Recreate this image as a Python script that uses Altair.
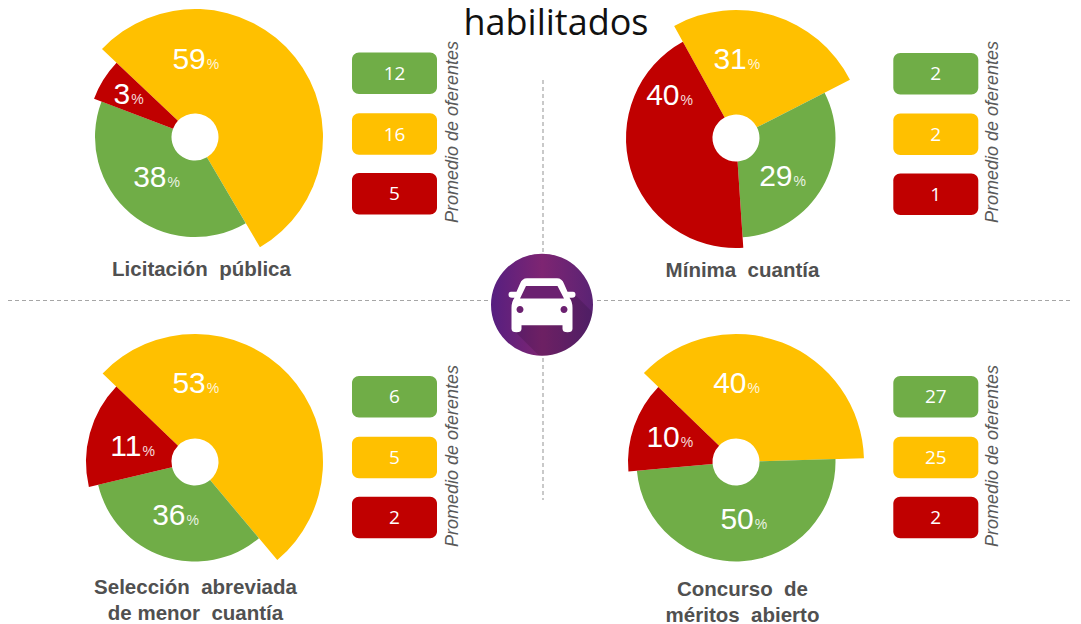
import altair as alt
import pandas as pd

# ---- values ----
categories = ["verde", "amarillo", "rojo"]
colors = ["#70AD47", "#FFC000", "#C00000"]

# slice boundaries (degrees clockwise from 12 o'clock) as drawn
yellow_start = [-46.6, -28.9, -46.2, -46.0]
yellow_end = [149.5, 62.9, 140.0, 88.3]
green_end = [290.8, 176.2, 256.8, 264.9]
# extent of each slice
yellow_size = [128, 128, 128, 128]
green_size = [100, 99.5, 99.5, 99.5]
red_size = [108, 110, 109, 108]

# percentage labels
yellow_pct = ["59", "31", "53", "40"]
green_pct = ["38", "29", "36", "50"]
red_pct = ["3", "40", "11", "10"]

# average bidders
green_avg = ["12", "2", "6", "27"]
yellow_avg = ["16", "2", "5", "25"]
red_avg = ["5", "1", "2", "2"]

axis_text = "Promedio de oferentes"
title_text = "habilitados"
captions = [
    ["Licitación\u00a0\u00a0pública"],
    ["Mínima\u00a0\u00a0cuantía"],
    ["Selección\u00a0\u00a0abreviada", "de\u00a0menor\u00a0\u00a0cuantía"],
    ["Concurso\u00a0\u00a0de", "méritos\u00a0\u00a0abierto"],
]

# ---- layout (separate from the values) ----
W, H = 1065, 616
centers = [(195, 137), (736, 138), (195, 462), (736, 462)]
hole = 23.5
box_left = [352, 893.3, 352, 893.3]
box_w = 85
box_tops = [[52.5, 113.3, 173], [53, 113.5, 173.5], [376, 436.7, 496.7], [376, 436.7, 496.7]]
box_h = 41.5
side_x = [453, 993, 453, 993]
side_y = [132, 132, 456, 456]
caption_pos = [
    [(201.5, 276)],
    [(742.5, 276.5)],
    [(195.5, 594), (195.5, 620)],
    [(742.5, 596), (742.5, 621.5)],
]
# (junction between number and %, baseline) for yellow, green, red
label_pos = [
    [(206.3, 69), (167, 187.3), (130.7, 104)],
    [(747.3, 69), (793, 186), (680, 105)],
    [(206.3, 392.7), (186, 525), (142, 455.7)],
    [(747, 392.7), (754.3, 529.3), (680.3, 446.7)],
]
icon_center = (542, 304.7)
icon_r = 51

# ---- tables ----
slices, pct_rows, boxes, box_text, side, caps = [], [], [], [], [], []
for i in range(4):
    cx, cy = centers[i]
    slices += [
        dict(cx=cx, cy=cy, cat="amarillo", a=yellow_start[i], b=yellow_end[i], r=yellow_size[i]),
        dict(cx=cx, cy=cy, cat="verde", a=yellow_end[i], b=green_end[i], r=green_size[i]),
        dict(cx=cx, cy=cy, cat="rojo", a=green_end[i], b=yellow_start[i] + 360, r=red_size[i]),
    ]
    for val, (jx, by) in zip([yellow_pct[i], green_pct[i], red_pct[i]], label_pos[i]):
        pct_rows.append(dict(x=jx, y=by, t=val, p="%"))
    for cat, top, val in zip(categories, box_tops[i], [green_avg[i], yellow_avg[i], red_avg[i]]):
        boxes.append(dict(x=box_left[i], x2=box_left[i] + box_w, y=top, y2=top + box_h, cat=cat))
        box_text.append(dict(x=box_left[i] + box_w / 2, y=top + box_h / 2 + 0.5, t=val))
    side.append(dict(x=side_x[i], y=side_y[i], t=axis_text))
    for line, (px, py) in zip(captions[i], caption_pos[i]):
        caps.append(dict(x=px, y=py, t=line))

slices = pd.DataFrame(slices)
pct_rows = pd.DataFrame(pct_rows)
boxes = pd.DataFrame(boxes)
box_text = pd.DataFrame(box_text)
side = pd.DataFrame(side)
caps = pd.DataFrame(caps)
icon = pd.DataFrame(dict(cx=[icon_center[0]], cy=[icon_center[1]], a=[0], b=[360], r=[icon_r]))
title_df = pd.DataFrame(dict(x=[556], y=[35], t=[title_text]))
h_rules = pd.DataFrame(dict(x=[8, 597], x2=[490, 1078], y=[300.5, 300.5]))
v_rules = pd.DataFrame(dict(x=[543, 543], y=[80, 358], y2=[253, 500]))

# ---- shared scales: one unit = one pixel of the page ----
xs = alt.Scale(domain=[8, 8 + W], range=[0, W], zero=False, nice=False)
ys = alt.Scale(domain=[8, 8 + H], range=[0, H], zero=False, nice=False)
X = lambda f: alt.X(f, scale=xs, axis=None, title=None)
Y = lambda f: alt.Y(f, scale=ys, axis=None, title=None)
theta_s = alt.Scale(domain=[0, 360], range=[0, 6.283185307])
rad_s = alt.Scale(domain=[0, 140], range=[0, 140], zero=False, nice=False)
col = alt.Color("cat:N", scale=alt.Scale(domain=categories, range=colors), legend=None)


def arcs(df, mark):
    return alt.Chart(df).mark_arc(**mark).encode(
        x=X("cx:Q"), y=Y("cy:Q"),
        theta=alt.Theta("a:Q", scale=theta_s, stack=None),
        theta2=alt.Theta2("b:Q"),
        radius=alt.Radius("r:Q", scale=rad_s, stack=None),
    )


rule_style = dict(color="#A6A6A6", strokeWidth=1.2, strokeDash=[4, 3])
rules_h = alt.Chart(h_rules).mark_rule(**rule_style).encode(x=X("x:Q"), x2="x2:Q", y=Y("y:Q"))
rules_v = alt.Chart(v_rules).mark_rule(**rule_style).encode(x=X("x:Q"), y=Y("y:Q"), y2="y2:Q")

pie = arcs(slices, dict(innerRadius=hole)).encode(color=col)

rects = alt.Chart(boxes).mark_rect(cornerRadius=7).encode(
    x=X("x:Q"), x2="x2:Q", y=Y("y:Q"), y2="y2:Q", color=col)


def text(df, field, **kw):
    return alt.Chart(df).mark_text(**kw).encode(x=X("x:Q"), y=Y("y:Q"), text=alt.Text(field))


nums = text(pct_rows, "t:N", font="Liberation Sans", fontSize=30, color="white", align="right", baseline="alphabetic", dx=-0.5)
pcts = text(pct_rows, "p:N", font="Liberation Sans", fontSize=14, color="white", opacity=0.85, align="left", baseline="alphabetic", dx=0.5)
box_nums = text(box_text, "t:N", font="Open Sans", fontSize=19, color="white", align="center", baseline="middle")
side_txt = text(side, "t:N", font="Liberation Sans", fontStyle="italic", fontSize=18, color="#595959", angle=270, align="center", baseline="middle")
cap_txt = text(caps, "t:N", font="Liberation Sans", fontWeight="bold", fontSize=20.5, color="#505050", align="center", baseline="alphabetic")
title_txt = text(title_df, "t:N", font="Open Sans", fontSize=36, color="#111111", align="center", baseline="alphabetic")

badge = arcs(icon, dict(fill={
    "gradient": "linear", "x1": 0, "x2": 1, "y1": 0, "y2": 0,
    "stops": [
        {"offset": 0, "color": "#561F80"},
        {"offset": 0.5, "color": "#7E2572"},
        {"offset": 1, "color": "#5A2374"},
    ]}))

SHADOW = "M33,-10 L50.5,7.5 A51,51 0 0 1 -3.1,50.9 L-30,24 Z"
CAR = ("M-15,-26.5 L15,-26.5 Q20,-26.5 22,-21 L25.5,-13 L31,-13 Q33.5,-13 33.5,-10 Q33.5,-7 30,-7 "
       "L27.5,-7 Q30.5,-3 30.5,3 L30.5,24 Q30.5,27.5 25.5,27.5 Q20.5,27.5 20.5,24 L20.5,20.5 "
       "L-20.5,20.5 L-20.5,24 Q-20.5,27.5 -25.5,27.5 Q-30.5,27.5 -30.5,24 L-30.5,3 Q-30.5,-3 -27.5,-7 "
       "L-30,-7 Q-33.5,-7 -33.5,-10 Q-33.5,-13 -31,-13 L-25.5,-13 L-22,-21 Q-20,-26.5 -15,-26.5 Z")
CAR_CUTS = ("M-16,-18.7 L15.5,-18.7 L22,-6.3 L-22,-6.3 Z "
            "M-25.5,4.7 A3.5,3.5 0 1 0 -18.5,4.7 A3.5,3.5 0 1 0 -25.5,4.7 Z "
            "M18.5,4.7 A3.5,3.5 0 1 0 25.5,4.7 A3.5,3.5 0 1 0 18.5,4.7 Z")


def glyph(path, color, opacity=1.0):
    return alt.Chart(icon).mark_point(shape=path, size=4, filled=True, fill=color, opacity=opacity, strokeWidth=0).encode(
        x=X("cx:Q"), y=Y("cy:Q"))


chart = alt.layer(
    rules_h, rules_v, pie, rects, nums, pcts, box_nums, side_txt, cap_txt, title_txt,
    badge, glyph(SHADOW, "#000000", 0.13), glyph(CAR, "#FFFFFF"), glyph(CAR_CUTS, "#6B2170"),
).properties(
    width=W, height=H, padding=0, background="white",
    autosize=alt.AutoSizeParams(type="none"),
).configure_view(stroke=None)

chart.save("out.html", embed_options={"renderer": "svg", "actions": False})
